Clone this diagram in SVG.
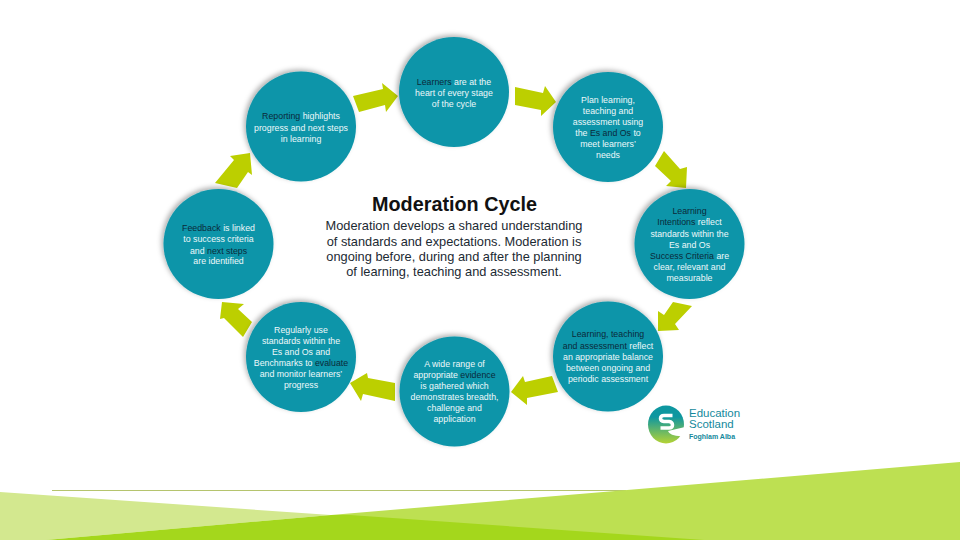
<svg xmlns="http://www.w3.org/2000/svg" width="960" height="540" viewBox="0 0 960 540">
<style>
.c{fill:#0c95a9;filter:url(#sh)}
.a{fill:#bccf00}
.t{font-family:"Liberation Sans",Arial,sans-serif;font-size:8.800px;fill:#eef8fa;text-anchor:middle}
.k{fill:#0b2a3a}
.h{font-family:"Liberation Sans",Arial,sans-serif;fill:#111;text-anchor:middle}
.m{font-size:12.800px;fill:#1c2a33}
.l{font-family:"Liberation Sans",Arial,sans-serif;fill:#14899c}
</style>
<defs>
<filter id="sh" x="-15%" y="-15%" width="130%" height="130%"><feDropShadow dx="-2" dy="-2" stdDeviation="2.500" flood-color="#000" flood-opacity="0.3"/></filter>
<linearGradient id="lg" x1="0" y1="0" x2="0" y2="1"><stop offset="0.3" stop-color="#0e97a0"/><stop offset="1" stop-color="#b5d334"/></linearGradient>
</defs>
<rect width="960" height="540" fill="#fff"/>
<g id="background">
<line x1="52" y1="490.500" x2="626" y2="490.500" stroke="#b5c46e" stroke-width="1"/>
<polygon points="0,492 331,515 46,540 0,540" fill="#d3e88f"/>
<polygon points="331,515 960,462 960,540 331,540" fill="#bde052"/>
<polygon points="46,540 331,515 350,515 704,540" fill="#a4d71c"/>
</g>
<g id="connectors">
<polygon class="a" points="353,96 383,89 382,83 398,96 386,112 385,105 359,112"/>
<polygon class="a" points="515,87 543,93 545,86 556,102 541,116 541,110 515,105"/>
<polygon class="a" points="664,151 680,169 687,167 686,188 666,186 671,181 655,166"/>
<polygon class="a" points="673,302 692,306 675,324 679,330 658,331 658,311 664,315"/>
<polygon class="a" points="552,376 558,392 527,398 527,405 511,392 523,376 525,382"/>
<polygon class="a" points="395,383 395,401 363,394 361,401 350,383 367,373 368,378"/>
<polygon class="a" points="252,322 243,337 224,318 220,319 222,302 244,304 238,309"/>
<polygon class="a" points="215,183 234,160 230,156 250,153 252,175 248,172 237,188"/>
</g>
<g id="node-learners"><circle class="c" cx="454" cy="92" r="55"/>
<text class="t" x="454" y="85"><tspan class="k">Learners</tspan> are at the</text>
<text class="t" x="454" y="96">heart of every stage</text>
<text class="t" x="454" y="107">of the cycle</text></g>
<g id="node-plan"><circle class="c" cx="608" cy="127" r="55"/>
<text class="t" x="608" y="103">Plan learning,</text>
<text class="t" x="608" y="113.500">teaching and</text>
<text class="t" x="608" y="124.500">assessment using</text>
<text class="t" x="608" y="136">the <tspan class="k">Es and Os</tspan> to</text>
<text class="t" x="608" y="147">meet learners’</text>
<text class="t" x="608" y="158">needs</text></g>
<g id="node-intentions"><circle class="c" cx="689.500" cy="244" r="55"/>
<text class="t" x="689.500" y="214"><tspan class="k">Learning</tspan></text>
<text class="t" x="689.500" y="225"><tspan class="k">Intentions</tspan> reflect</text>
<text class="t" x="689.500" y="236.500">standards within the</text>
<text class="t" x="689.500" y="247.500">Es and Os</text>
<text class="t" x="689.500" y="259"><tspan class="k">Success Criteria</tspan> are</text>
<text class="t" x="689.500" y="270">clear, relevant and</text>
<text class="t" x="689.500" y="281">measurable</text></g>
<g id="node-assessment"><circle class="c" cx="608" cy="356.500" r="55"/>
<text class="t" x="608" y="337"><tspan class="k">Learning, teaching</tspan></text>
<text class="t" x="608" y="349"><tspan class="k">and assessment</tspan> reflect</text>
<text class="t" x="608" y="360">an appropriate balance</text>
<text class="t" x="608" y="371">between ongoing and</text>
<text class="t" x="608" y="382">periodic assessment</text></g>
<g id="node-evidence"><circle class="c" cx="454.500" cy="391.500" r="55"/>
<text class="t" x="454.500" y="367">A wide range of</text>
<text class="t" x="454.500" y="378">appropriate <tspan class="k">evidence</tspan></text>
<text class="t" x="454.500" y="389">is gathered which</text>
<text class="t" x="454.500" y="400">demonstrates breadth,</text>
<text class="t" x="454.500" y="411">challenge and</text>
<text class="t" x="454.500" y="422">application</text></g>
<g id="node-standards"><circle class="c" cx="301" cy="357" r="55"/>
<text class="t" x="301" y="333">Regularly use</text>
<text class="t" x="301" y="343.500">standards within the</text>
<text class="t" x="301" y="354.500">Es and Os and</text>
<text class="t" x="301" y="365.500">Benchmarks to <tspan class="k">evaluate</tspan></text>
<text class="t" x="301" y="377">and monitor learners’</text>
<text class="t" x="301" y="387.500">progress</text></g>
<g id="node-feedback"><circle class="c" cx="218.500" cy="244" r="55"/>
<text class="t" x="218.500" y="231"><tspan class="k">Feedback</tspan> is linked</text>
<text class="t" x="218.500" y="242">to success criteria</text>
<text class="t" x="218.500" y="253.500">and <tspan class="k">next steps</tspan></text>
<text class="t" x="218.500" y="264">are identified</text></g>
<g id="node-reporting"><circle class="c" cx="301" cy="126.500" r="55"/>
<text class="t" x="301" y="119"><tspan class="k">Reporting</tspan> highlights</text>
<text class="t" x="301" y="130.500">progress and next steps</text>
<text class="t" x="301" y="141.500">in learning</text></g>
<g id="title">
<text class="h" x="454.500" y="210.500" font-size="19.800" font-weight="bold">Moderation Cycle</text>
<text class="h m" x="454" y="229.500">Moderation develops a shared understanding</text>
<text class="h m" x="454" y="245.500">of standards and expectations. Moderation is</text>
<text class="h m" x="454" y="261">ongoing before, during and after the planning</text>
<text class="h m" x="454" y="276">of learning, teaching and assessment.</text>
</g>
<g id="logo">
<ellipse cx="666" cy="424.500" rx="18" ry="19" fill="url(#lg)"/>
<path d="M685 427L668 431Q670 437 685 436Z" fill="#fff"/>
<path d="M672.500 415.500H664Q660.500 415.500 660.500 418.500Q660.500 421 664 421.500H669Q672.500 422 672.500 425Q672.500 428 669 428H660.500" fill="none" stroke="#fff" stroke-width="3.500"/>
<text class="l" x="689" y="417" font-size="11.500px">Education</text>
<text class="l" x="689" y="427.500" font-size="11.500px">Scotland</text>
<text class="l" x="689" y="439" font-size="7px" font-weight="bold">Foghlam Alba</text>
</g>
</svg>
